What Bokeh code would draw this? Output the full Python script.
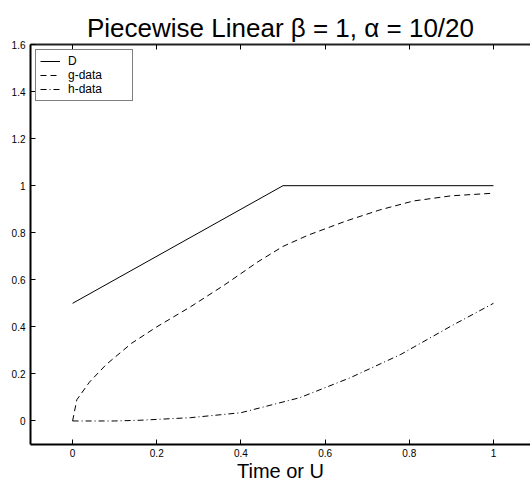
from bokeh.plotting import figure
from bokeh.models import LinearAxis, Range1d, Legend, LegendItem, FixedTicker
from bokeh.embed import file_html
from bokeh.resources import INLINE

# Data
d_x = [0.0, 0.5, 1.0]
d_y = [0.5, 1.0, 1.0]

g_x = [0.0, 0.01, 0.04, 0.08, 0.14, 0.2, 0.28, 0.36, 0.44, 0.5, 0.56, 0.65, 0.73, 0.81, 0.9, 1.0]
g_y = [0.0, 0.09, 0.165, 0.24, 0.33, 0.40, 0.485, 0.577, 0.676, 0.742, 0.79, 0.85, 0.897, 0.935, 0.957, 0.968]

h_x = [0.0, 0.1, 0.16, 0.28, 0.4, 0.54, 0.66, 0.78, 0.9, 1.0]
h_y = [0.0, 0.0, 0.003, 0.014, 0.035, 0.099, 0.184, 0.283, 0.404, 0.5]

x_ticks = [0, 0.2, 0.4, 0.6, 0.8, 1]
y_ticks = [0, 0.2, 0.4, 0.6, 0.8, 1, 1.2, 1.4, 1.6]
y_tick_labels = {0: "0", 0.2: "0.2", 0.4: "0.4", 0.6: "0.6", 0.8: "0.8", 1: "1",
                 1.2: "1.2", 1.4: "1.4", 1.6: "1.6"}
x_tick_labels = {0: "0", 0.2: "0.2", 0.4: "0.4", 0.6: "0.6", 0.8: "0.8", 1: "1"}

title_text = "Piecewise Linear \u03b2 = 1, \u03b1 = 10/20"
x_label = "Time or U"
labels = ["D", "g-data", "h-data"]

FONT = "Liberation Sans"

p = figure(width=530, height=485, output_backend="svg", toolbar_location=None,
           x_range=Range1d(-0.1, 1.088), y_range=Range1d(-0.1, 1.6),
           x_axis_location=None, y_axis_location=None,
           min_border_left=30, min_border_right=0, min_border_top=44, min_border_bottom=41)
p.background_fill_color = "white"
p.border_fill_color = "white"
p.outline_line_color = None
p.xgrid.visible = False
p.ygrid.visible = False

p.title.text = title_text
p.title.text_font = FONT
p.title.text_font_size = "26px"
p.title.text_font_style = "normal"
p.title.text_color = "black"
p.title.align = "center"
p.title.standoff = 4

def style_axis(ax, show_labels=True):
    ax.axis_line_color = "black"
    ax.axis_line_width = 2
    ax.major_tick_in = 5
    ax.major_tick_out = 0
    ax.major_tick_line_color = "black"
    ax.major_tick_line_width = 1
    ax.minor_tick_line_color = None
    ax.major_label_text_font = FONT
    ax.major_label_text_font_size = "10px"
    ax.major_label_text_color = "black"
    ax.major_label_standoff = 4

xa = LinearAxis(ticker=FixedTicker(ticks=x_ticks), major_label_overrides=x_tick_labels)
style_axis(xa)
xa.axis_label = x_label
xa.axis_label_text_font = FONT
xa.axis_label_text_font_size = "20px"
xa.axis_label_text_font_style = "normal"
xa.axis_label_text_color = "black"
xa.axis_label_standoff = 0
p.add_layout(xa, "below")

ya = LinearAxis(ticker=FixedTicker(ticks=y_ticks), major_label_overrides=y_tick_labels)
style_axis(ya)
ya.major_label_standoff = 5
p.add_layout(ya, "left")

# top box edge with inward ticks, no labels
ta = LinearAxis(ticker=FixedTicker(ticks=x_ticks))
style_axis(ta)
ta.axis_line_color = "#222222"
ta.major_label_text_font_size = "10px"
ta.major_label_text_alpha = 0.0
ta.major_label_text_color = None
ta.major_label_standoff = 0
p.add_layout(ta, "above")

r_d = p.line(d_x, d_y, line_color="black", line_width=1)
r_g = p.line(g_x, g_y, line_color="black", line_width=1, line_dash="6 4")
r_h = p.line(h_x, h_y, line_color="black", line_width=1, line_dash="6 3 1 3")

legend = Legend(items=[LegendItem(label=labels[0], renderers=[r_d]),
                       LegendItem(label=labels[1], renderers=[r_g]),
                       LegendItem(label=labels[2], renderers=[r_h])],
                location="top_left", margin=5, padding=4, spacing=0,
                label_height=14, glyph_height=14, glyph_width=20, label_standoff=8,
                label_width=60,
                label_text_font=FONT, label_text_font_size="12px", label_text_color="black",
                border_line_color="black", border_line_width=1,
                background_fill_color="white", background_fill_alpha=1.0)
p.add_layout(legend, "center")

open("out.html", "w").write(file_html(p, INLINE))
